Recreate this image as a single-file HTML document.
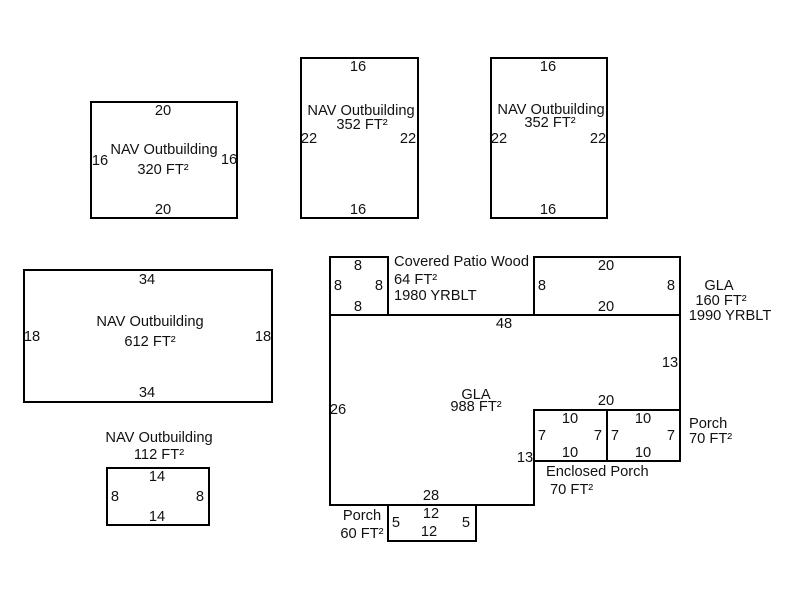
<!DOCTYPE html>
<html>
<head>
<meta charset="utf-8">
<style>
html,body{margin:0;padding:0;background:#fff;width:800px;height:600px;overflow:hidden}
svg{display:block}
text{font-family:"Liberation Sans",sans-serif;font-size:14.67px;fill:#111;text-anchor:middle}
text.l{text-anchor:start}
.s{fill:none;stroke:#000;stroke-width:2}
</style>
</head>
<body>
<svg width="800" height="600" viewBox="0 0 800 600" xmlns="http://www.w3.org/2000/svg">
<rect class="s" x="91" y="102" width="146" height="116"/>
<rect class="s" x="301" y="58" width="117" height="160"/>
<rect class="s" x="491" y="58" width="116" height="160"/>
<rect class="s" x="24" y="270" width="248" height="132"/>
<rect class="s" x="107" y="468" width="102" height="57"/>
<path class="s" d="M330 315H680V410H534V505H330Z"/>
<rect class="s" x="330" y="257" width="58" height="58"/>
<rect class="s" x="534" y="257" width="146" height="58"/>
<rect class="s" x="534" y="410" width="73" height="51"/>
<rect class="s" x="607" y="410" width="73" height="51"/>
<rect class="s" x="388" y="505" width="88" height="36"/>

<text x="163" y="115">20</text>
<text x="163" y="214">20</text>
<text x="100" y="165">16</text>
<text x="229" y="164">16</text>
<text x="164" y="154">NAV Outbuilding</text>
<text x="163" y="174">320 FT²</text>

<text x="358" y="71">16</text>
<text x="358" y="214">16</text>
<text x="309" y="143">22</text>
<text x="408" y="143">22</text>
<text x="361" y="115">NAV Outbuilding</text>
<text x="362" y="129">352 FT²</text>

<text x="548" y="71">16</text>
<text x="548" y="214">16</text>
<text x="499" y="143">22</text>
<text x="598" y="143">22</text>
<text x="551" y="114">NAV Outbuilding</text>
<text x="550" y="127">352 FT²</text>

<text x="147" y="284">34</text>
<text x="147" y="397">34</text>
<text x="32" y="341">18</text>
<text x="263" y="341">18</text>
<text x="150" y="326">NAV Outbuilding</text>
<text x="150" y="346">612 FT²</text>

<text x="159" y="442">NAV Outbuilding</text>
<text x="159" y="459">112 FT²</text>
<text x="157" y="481">14</text>
<text x="157" y="521">14</text>
<text x="115" y="501">8</text>
<text x="200" y="501">8</text>

<text x="358" y="270">8</text>
<text x="358" y="311">8</text>
<text x="338" y="290">8</text>
<text x="379" y="290">8</text>
<text class="l" x="394" y="266">Covered Patio Wood</text>
<text class="l" x="394" y="284">64 FT²</text>
<text class="l" x="394" y="300">1980 YRBLT</text>

<text x="606" y="270">20</text>
<text x="606" y="311">20</text>
<text x="542" y="290">8</text>
<text x="671" y="290">8</text>
<text x="719" y="290">GLA</text>
<text x="721" y="305">160 FT²</text>
<text x="730" y="320">1990 YRBLT</text>

<text x="504" y="328">48</text>
<text x="670" y="367">13</text>
<text x="338" y="414">26</text>
<text x="476" y="399">GLA</text>
<text x="476" y="411">988 FT²</text>

<text x="606" y="405">20</text>
<text x="570" y="423">10</text>
<text x="570" y="457">10</text>
<text x="542" y="440">7</text>
<text x="598" y="440">7</text>
<text x="643" y="423">10</text>
<text x="643" y="457">10</text>
<text x="615" y="440">7</text>
<text x="671" y="440">7</text>
<text x="525" y="462">13</text>
<text class="l" x="689" y="428">Porch</text>
<text class="l" x="689" y="443">70 FT²</text>
<text class="l" x="546" y="476">Enclosed Porch</text>
<text class="l" x="550" y="494">70 FT²</text>

<text x="431" y="500">28</text>
<text x="431" y="518">12</text>
<text x="429" y="536">12</text>
<text x="396" y="527">5</text>
<text x="466" y="527">5</text>
<text x="362" y="520">Porch</text>
<text x="362" y="538">60 FT²</text>
</svg>
</body>
</html>
